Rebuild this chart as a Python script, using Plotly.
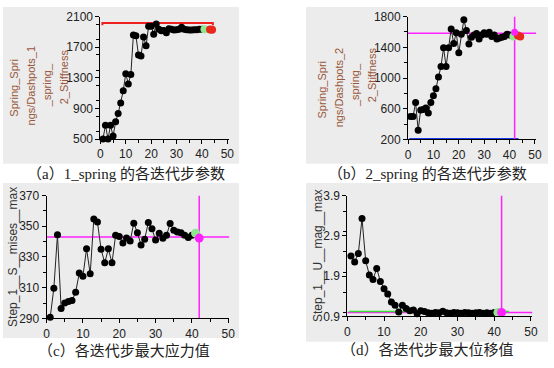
import plotly.graph_objects as go

W, H = 554, 368

# ---------------- data ----------------
iterations = list(range(1, 41))
x_ticks = [0, 10, 20, 30, 40, 50]

spring1_stiffness = [500, 680, 500, 680, 540, 725, 835, 970, 1130, 1355,
                     1220, 1345, 1860, 1850, 1600, 1585, 1835, 1720, 1975, 1975,
                     1870, 2005, 1935, 1915, 1920, 1890, 1940, 1935, 1925, 1930,
                     1935, 1960, 1935, 1930, 1925, 1925, 1930, 1930, 1935, 1935]

spring2_stiffness = [500, 500, 680, 320, 585, 590, 610, 545, 680, 770,
                     860, 1015, 1150, 1395, 1150, 1395, 1640, 1450, 1590, 1330,
                     1570, 1760, 1620, 1445, 1530, 1560, 1580, 1510, 1560, 1590,
                     1570, 1595, 1540, 1560, 1510, 1520, 1530, 1540, 1570, 1560]

mises_max = [290.7, 309.7, 344.5, 296.5, 300.0, 301.0, 301.7, 307.0, 319.5, 317.4,
             335.3, 319.0, 354.8, 352.7, 335.0, 326.2, 335.3, 326.2, 344.1, 343.3,
             339.1, 342.4, 340.4, 352.0, 345.8, 337.8, 341.6, 352.5, 348.3, 341.0,
             345.4, 342.2, 344.1, 351.8, 347.4, 346.3, 345.7, 344.2, 342.6, 344.2]

umag_max = [2.40, 2.25, 2.46, 3.33, 2.28, 1.93, 1.82, 2.09, 1.77, 1.59,
            1.46, 1.26, 1.18, 1.01, 1.18, 1.10, 1.04, 1.06, 0.97, 1.04,
            1.02, 0.99, 0.98, 1.00, 0.99, 1.03, 0.99, 0.98, 1.00, 0.99,
            0.98, 1.00, 0.99, 0.98, 0.99, 1.00, 0.98, 0.99, 0.98, 1.00]

# special points / reference lines
a_bound_x = [0.8, 0.8, 44.3, 44.3]
a_bound_y = [1988, 2016, 2016, 1988]
a_green = ([41], [1935])
a_red = ([43.2, 44.0], [1932, 1930])

b_bound_x = [0.5, 43.5]
b_bound_y = [200, 200]
b_best = (42, 1583)
b_green = ([41.5], [1540])
b_mag = ([42], [1595])
b_red = ([43.3, 44.2], [1555, 1540])

c_best = (42, 343)
c_green = ([41], [345.5])
c_mag = ([42], [342.3])

d_best = (42, 1.0)
d_green_line_x = [0.5, 44]
d_green_line_y = [1.02, 1.02]
d_green = ([41], [1.0])
d_mag = ([42], [1.0])

captions = ["（a）1_spring 的各迭代步参数", "（b）2_spring 的各迭代步参数",
            "（c）各迭代步最大应力值", "（d）各迭代步最大位移值"]

# ---------------- helpers ----------------
def px(x):
    return x / W

def py(y):
    return 1 - y / H

fig = go.Figure()

LINE = dict(color="#222222", width=1)
MK = dict(color="black", size=7)

def series(xs, ys, ax):
    fig.add_trace(go.Scatter(x=xs, y=ys, mode="lines+markers", line=LINE, marker=MK,
                             xaxis="x" + ax, yaxis="y" + ax, cliponaxis=False,
                             showlegend=False, hoverinfo="skip"))

def pts(p, color, ax, size=8):
    fig.add_trace(go.Scatter(x=p[0], y=p[1], mode="markers", marker=dict(color=color, size=size),
                             xaxis="x" + ax, yaxis="y" + ax, cliponaxis=False,
                             showlegend=False, hoverinfo="skip"))

def line(xs, ys, color, width, ax):
    fig.add_trace(go.Scatter(x=xs, y=ys, mode="lines", line=dict(color=color, width=width),
                             xaxis="x" + ax, yaxis="y" + ax, cliponaxis=False,
                             showlegend=False, hoverinfo="skip"))

MAG = "#ff22ff"
GREEN = "#8fe88f"
RED = "#e8281c"

# panel a
line(a_bound_x, a_bound_y, "#ee2020", 2, "")
series(iterations, spring1_stiffness, "")
pts(a_green, GREEN, "")
pts(a_red, RED, "")

# panel b
line(b_bound_x, b_bound_y, "#2038f0", 3, "2")
line([0, 50.5], [b_best[1], b_best[1]], MAG, 1.5, "2")
line([b_best[0], b_best[0]], [200, 1800], MAG, 1.5, "2")
series(iterations, spring2_stiffness, "2")
pts(b_green, GREEN, "2")
pts(b_red, RED, "2")
pts(b_mag, MAG, "2", 7)

# panel c
line([0, 50.3], [c_best[1], c_best[1]], MAG, 1.5, "3")
line([c_best[0], c_best[0]], [290, 370], MAG, 1.5, "3")
series(iterations, mises_max, "3")
pts(c_green, GREEN, "3", 9)
pts(c_mag, MAG, "3", 9)

# panel d
line([0, 50.4], [d_best[1], d_best[1]], MAG, 1.5, "4")
line([d_best[0], d_best[0]], [0.9, 3.9], MAG, 1.5, "4")
line(d_green_line_x, d_green_line_y, "#33dd33", 1.5, "4")
series(iterations, umag_max, "4")
pts(d_green, GREEN, "4", 9)
pts(d_mag, MAG, "4", 9)

TF = dict(family="Liberation Sans, Arial, sans-serif", size=12, color="#222222")

def xax(x0, x1, y0, yanchor, rmax):
    return dict(domain=[px(x0), px(x1)], range=[0, rmax], anchor=yanchor,
                showline=True, linecolor="black", linewidth=1, ticks="outside", ticklen=4,
                tickcolor="black", showgrid=False, zeroline=False, tickfont=TF,
                tickvals=x_ticks, minor=dict(ticks="outside", ticklen=3, tickcolor="black", dtick=5),
                fixedrange=True)

def yax(top, bottom, xanchor, r, dt, mdt):
    return dict(domain=[py(bottom), py(top)], range=r, anchor=xanchor,
                showline=True, linecolor="black", linewidth=1, ticks="outside", ticklen=4,
                tickcolor="black", showgrid=False, zeroline=False, tickfont=TF,
                tick0=r[0], dtick=dt,
                minor=dict(ticks="outside", ticklen=3, tickcolor="black", dtick=mdt),
                fixedrange=True)

# gray panels
shapes = []
for (x0, y0, x1, y1) in [(0, 0, 240, 163), (308, 0, 554, 163), (0, 183, 240, 344), (308, 183, 554, 348)]:
    shapes.append(dict(type="rect", xref="paper", yref="paper", x0=px(x0), x1=px(x1),
                       y0=py(y1), y1=py(y0), fillcolor="#ececec", line=dict(width=0), layer="below"))

fig.update_layout(
    width=W, height=H, margin=dict(l=0, r=0, t=0, b=0),
    paper_bgcolor="white", plot_bgcolor="white",
    xaxis=xax(99, 229.3, 137.3, "y", 50.5),
    yaxis=yax(10, 137.3, "x", [500, 2100], 400, 200),
    xaxis2=xax(411.7, 542, 137.7, "y2", 50.5),
    yaxis2=yax(10, 137.7, "x2", [200, 1800], 400, 200),
    xaxis3=xax(44.3, 230.1, 323.7, "y3", 50.3),
    yaxis3=yax(196, 323.7, "x3", [290, 370], 20, 10),
    xaxis4=xax(350, 538.2, 321.7, "y4", 50.4),
    yaxis4=yax(196, 321.7, "x4", [0.9, 3.9], 1, 0.5),
    shapes=shapes,
)

annotations = []
BROWN = "#98573a"
AF = "Liberation Sans, Arial, sans-serif"

def vtext(t, x, y, color, size):
    annotations.append(dict(text=t, x=px(x), y=py(y), xref="paper", yref="paper",
                            textangle=-90, showarrow=False, xanchor="center", yanchor="middle",
                            font=dict(family=AF, size=size, color=color)))

for i, t in enumerate(["Spring_Spri", "ngs/Dashpots_1", "_spring_", "2_Stiffness"]):
    vtext(t, [11, 28, 45, 62][i], [84, 82, 81, 72][i], BROWN, 11)
for i, t in enumerate(["Spring_Spri", "ngs/Dashpots_2", "_spring_", "2_Stiffness"]):
    vtext(t, [324, 341, 358, 375][i], [86, 83, 81, 70][i], BROWN, 11)
vtext("Step_1__S__mises__max", 10, 260, "#333333", 12)
vtext("Step_1__U__mag__max", 320, 258, "#333333", 12)

for t, (x, y) in zip(captions, [(125, 174), (432, 174), (123, 357), (432, 357)]):
    annotations.append(dict(text=t, x=px(x), y=py(y), xref="paper", yref="paper",
                            showarrow=False, xanchor="center", yanchor="middle",
                            font=dict(family="Liberation Serif, Noto Sans CJK SC, serif", size=15,
                                      color="#222222")))

fig.update_layout(annotations=annotations)
fig.write_html("out.html", config={"displayModeBar": False},
               post_script="document.body.style.margin='0';document.body.style.overflow='hidden';")
